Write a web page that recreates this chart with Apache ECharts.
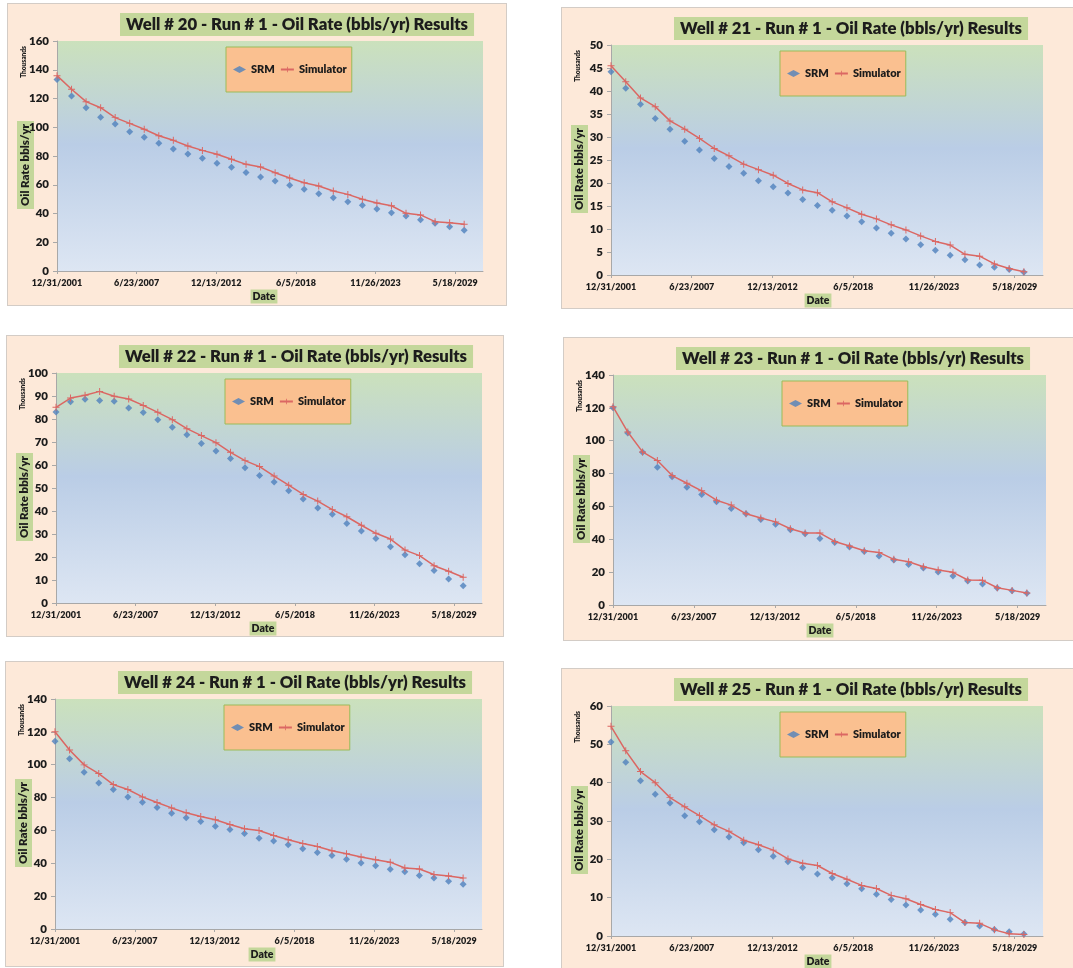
<!DOCTYPE html>
<html>
<head>
<meta charset="utf-8">
<script src="https://cdn.jsdelivr.net/npm/echarts@6/dist/echarts.min.js"></script>
<style>
  html, body { margin: 0; padding: 0; background: #ffffff; width: 1073px; height: 968px; overflow: hidden; }
  .panel { position: absolute; box-sizing: border-box; border: 1px solid #d3ccc6; background: #FDE9D9; }
</style>
</head>
<body>
<div id="w20" class="panel" style="left:7px;top:3px;width:500px;height:303px"></div>
<div id="w21" class="panel" style="left:561px;top:7px;width:520px;height:302px"></div>
<div id="w22" class="panel" style="left:6px;top:335px;width:498px;height:302px"></div>
<div id="w23" class="panel" style="left:563px;top:337px;width:520px;height:304px"></div>
<div id="w24" class="panel" style="left:5px;top:661px;width:499px;height:306px"></div>
<div id="w25" class="panel" style="left:561px;top:668px;width:520px;height:310px"></div>
<script>
// Yearly report dates (one value per year end)
const dates = [
  '12/31/2001','12/31/2002','12/31/2003','12/31/2004','12/31/2005','12/31/2006',
  '12/31/2007','12/31/2008','12/31/2009','12/31/2010','12/31/2011','12/31/2012',
  '12/31/2013','12/31/2014','12/31/2015','12/31/2016','12/31/2017','12/31/2018',
  '12/31/2019','12/31/2020','12/31/2021','12/31/2022','12/31/2023','12/31/2024',
  '12/31/2025','12/31/2026','12/31/2027','12/31/2028','12/31/2029'
];
// Date axis labels, one every 2000 days from 12/31/2001
const xTickLabels = ['12/31/2001','6/23/2007','12/13/2012','6/5/2018','11/26/2023','5/18/2029'];
const seriesNames = ['SRM', 'Simulator'];

// Oil rate, thousands of bbls/yr
const srm20 = [133.3,121.7,113.6,106.9,102.3,96.9,93.0,88.8,84.9,81.4,78.4,74.9,72.1,68.6,65.4,62.6,59.6,56.8,53.8,51.0,48.2,45.7,43.1,40.6,38.3,35.7,33.2,30.8,28.3];
const sim20 = [135.9,126.4,117.8,113.6,106.7,102.7,98.6,94.1,90.9,87.0,83.9,81.2,77.7,74.2,72.3,68.4,64.7,61.4,59.1,55.7,53.3,49.9,47.3,45.4,40.1,39.0,34.3,33.6,32.5];

const srm21 = [44.2,40.6,37.1,34.0,31.7,29.1,27.2,25.3,23.6,22.1,20.5,19.2,17.8,16.4,15.1,14.1,12.8,11.6,10.2,9.1,7.8,6.6,5.4,4.3,3.3,2.2,1.7,1.2,0.6];
const sim21 = [45.5,42.0,38.5,36.6,33.5,31.7,29.7,27.5,25.9,24.1,22.9,21.7,19.9,18.5,17.9,15.9,14.6,13.2,12.2,10.9,9.8,8.5,7.3,6.5,4.5,4.1,2.4,1.4,0.7];

const srm22 = [83.0,87.5,88.6,88.0,87.7,84.8,82.8,79.7,76.4,73.2,69.3,66.1,62.8,58.8,55.4,52.6,48.8,45.2,41.3,38.6,34.6,31.3,28.0,24.5,21.0,17.1,14.1,10.4,7.5];
const sim22 = [85.1,89.1,90.3,92.0,89.9,88.7,85.9,82.9,79.7,75.8,72.8,69.7,65.5,61.9,59.3,55.2,51.2,47.2,44.3,40.6,37.5,33.8,30.3,27.8,23.0,20.6,16.2,13.8,11.2];

const srm23 = [120.1,104.7,93.0,83.9,78.0,71.7,67.3,62.8,58.8,55.5,52.1,49.2,45.8,43.4,40.5,38.1,35.3,32.6,29.8,27.4,24.7,22.5,20.1,17.6,14.6,12.8,10.3,8.7,7.1];
const sim23 = [120.7,105.3,93.2,87.9,78.8,74.1,69.5,63.8,60.8,55.5,52.9,50.6,46.4,43.8,43.8,38.7,35.9,33.0,32.0,27.8,26.3,23.3,21.3,19.9,15.2,15.0,10.5,8.9,7.3];

const srm24 = [114.3,103.7,95.4,88.9,84.9,80.4,77.2,73.9,70.5,67.7,65.4,62.6,60.6,58.1,55.3,53.5,51.3,48.8,46.6,44.8,42.5,40.1,38.5,36.3,34.8,32.6,31.0,29.0,27.3];
const sim24 = [120.1,109.0,99.9,94.6,87.9,84.9,80.4,77.0,73.7,70.7,68.5,66.5,63.6,61.0,60.0,56.9,54.3,52.1,50.2,47.6,45.8,43.8,42.1,40.7,37.1,36.5,33.2,32.2,31.0];

const srm25 = [50.6,45.3,40.5,37.0,34.7,31.4,29.8,27.7,25.8,24.3,22.5,20.8,19.4,17.9,16.2,15.2,13.6,12.3,10.9,9.5,8.1,6.8,5.7,4.4,3.5,2.6,1.7,1.1,0.5];
const sim25 = [54.7,48.3,42.9,40.0,36.1,33.7,31.4,29.0,27.3,25.0,23.8,22.4,20.1,19.0,18.4,16.3,14.8,13.2,12.4,10.6,9.7,8.2,6.9,6.1,3.5,3.3,1.6,0.6,0.4];

const FONT = 'Lato';
const TEXT = '#1c1c1c';
const AXIS = '#a8a8a8';
const HEAVY = 800;
const X_STEP = 2000;     // days between date labels
const X_MAX = 10700;     // axis end, days after 12/31/2001

function dayOffset(s) {
  const p = s.split('/').map(Number);
  return Math.round((Date.UTC(p[2], p[0] - 1, p[1]) - Date.UTC(2001, 11, 31)) / 86400000);
}

const plusSymbol = 'path://M4.3,0H5.7V4.3H10V5.7H5.7V10H4.3V5.7H0V4.3H4.3Z';

function drawWell(domId, well, srm, sim, yMax, yStep, plotW) {
  const chart = echarts.init(document.getElementById(domId), null, { renderer: 'canvas' });
  const xs = dates.map(dayOffset);
  const plotL = 49, plotT = 37, plotH = 230;
  chart.setOption({
    animation: false,
    backgroundColor: 'transparent',
    title: {
      text: 'Well # ' + well + ' - Run # 1 - Oil Rate (bbls/yr) Results',
      left: 112, top: 9,
      padding: [3, 6, 3, 6],
      backgroundColor: '#C4D79B',
      textStyle: { fontFamily: FONT, fontWeight: HEAVY, fontSize: 16.7, lineHeight: 17, color: TEXT }
    },
    legend: {
      left: 218, top: 43,
      padding: [17, 5, 17, 7],
      itemGap: 5, itemWidth: 13, itemHeight: 7,
      backgroundColor: '#FAC090', borderColor: '#9BBB59', borderWidth: 1,
      textStyle: { fontFamily: FONT, fontWeight: HEAVY, fontSize: 11, color: TEXT },
      data: [{ name: seriesNames[0], icon: 'diamond' }, { name: seriesNames[1] }]
    },
    grid: {
      left: plotL, top: plotT, width: plotW, height: plotH,
      show: true, borderWidth: 0,
      backgroundColor: {
        type: 'linear', x: 0, y: 0, x2: 0, y2: 1,
        colorStops: [
          { offset: 0, color: '#CBE1BC' },
          { offset: 0.45, color: '#BACDE6' },
          { offset: 1, color: '#DDE6F3' }
        ]
      }
    },
    xAxis: {
      type: 'value', min: 0, max: X_MAX, interval: X_STEP,
      axisLine: { show: true, lineStyle: { color: AXIS, width: 1 } },
      axisTick: { show: true, length: 3, lineStyle: { color: AXIS },
        customValues: xTickLabels.map((_, i) => i * X_STEP) },
      axisLabel: {
        margin: 8, fontFamily: FONT, fontWeight: HEAVY, fontSize: 9, color: TEXT,
        customValues: xTickLabels.map((_, i) => i * X_STEP),
        formatter: v => (v % X_STEP === 0 ? (xTickLabels[v / X_STEP] || '') : '')
      },
      splitLine: { show: false }
    },
    yAxis: {
      type: 'value', min: 0, max: yMax, interval: yStep,
      axisLine: { show: true, lineStyle: { color: AXIS, width: 1 } },
      axisTick: { show: true, length: 4, lineStyle: { color: AXIS } },
      axisLabel: { margin: 8, fontFamily: FONT, fontWeight: HEAVY, fontSize: 11.5, color: TEXT },
      splitLine: { show: false }
    },
    graphic: [
      {
        type: 'text', x: 16, y: plotT + 21, rotation: Math.PI / 2,
        style: { text: 'Thousands', fill: TEXT, font: '800 6.5px ' + FONT, align: 'center', verticalAlign: 'middle' }
      },
      {
        type: 'text', x: 17.5, y: 161, rotation: Math.PI / 2,
        style: {
          text: 'Oil Rate bbls/yr', fill: TEXT, font: '800 11.5px ' + FONT,
          align: 'center', verticalAlign: 'middle',
          backgroundColor: '#C4D79B', padding: [3, 3, 2, 3]
        }
      },
      {
        type: 'text', x: 256, y: 292.5,
        style: {
          text: 'Date', fill: TEXT, font: '800 10.5px ' + FONT,
          align: 'center', verticalAlign: 'middle',
          backgroundColor: '#C4D79B', padding: [2, 2, 1, 2]
        }
      }
    ],
    series: [
      {
        name: seriesNames[0], type: 'scatter',
        symbol: 'diamond', symbolSize: 7,
        itemStyle: { color: '#4F81BD' },
        data: xs.map((x, i) => [x, srm[i]])
      },
      {
        name: seriesNames[1], type: 'line',
        symbol: plusSymbol, symbolSize: 7, showSymbol: true,
        lineStyle: { color: '#DB6763', width: 1.5 },
        itemStyle: { color: '#DB6763' },
        data: xs.map((x, i) => [x, sim[i]])
      }
    ]
  });
}

drawWell('w20', '20', srm20, sim20, 160, 20, 426);
drawWell('w21', '21', srm21, sim21, 50, 5, 432);
drawWell('w22', '22', srm22, sim22, 100, 10, 426);
drawWell('w23', '23', srm23, sim23, 140, 20, 433);
drawWell('w24', '24', srm24, sim24, 140, 20, 427);
drawWell('w25', '25', srm25, sim25, 60, 10, 432);
</script>
</body>
</html>
